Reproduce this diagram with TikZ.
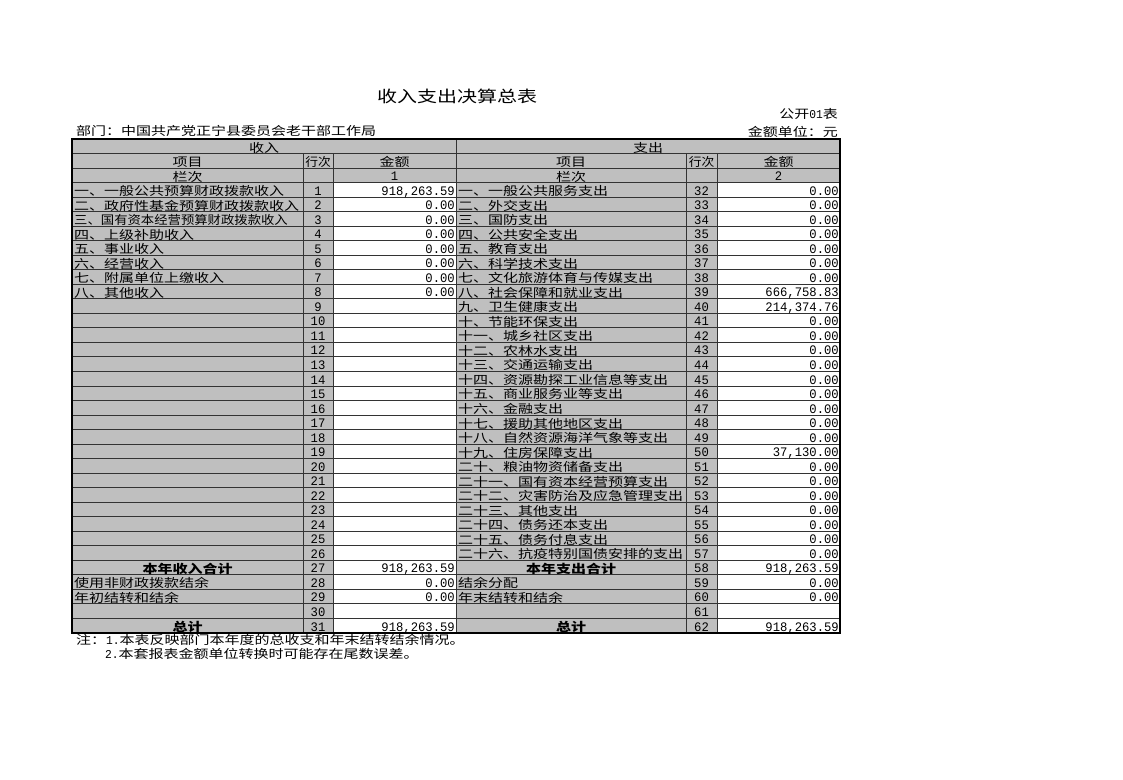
\documentclass[tikz,border=0pt]{standalone}
\usepackage{fontspec}
\usepackage{graphicx}
\setmainfont{Liberation Serif}
\newfontfamily\cjk[FakeStretch=1.25]{Noto Sans CJK SC}
\newfontfamily\num[FakeStretch=0.94]{Liberation Mono}

\begin{document}
\begin{tikzpicture}[x=1pt,y=-1pt,
    txt/.style={inner sep=0pt, font=\cjk\fontsize{12}{12}\selectfont},
    numtxt/.style={inner sep=0pt, font=\num\fontsize{13}{13}\selectfont},
    total/.style={inner sep=0pt, font=\cjk\bfseries\fontsize{12}{12}\selectfont},
    grid/.style={line width=1pt, black!80}]
    \useasboundingbox (0,0) rectangle (1123,779);
    % Title and heading lines
    \node[inner sep=0pt, font=\cjk\fontsize{16}{16}\selectfont, anchor=base] (title) at (457,102) {收入支出决算总表};
    \node[txt, anchor=base east] (form) at (838,118) {公开{\num 01}表};
    \node[txt, anchor=base west] (dept) at (76,135) {部门：中国共产党正宁县委员会老干部工作局};
    \node[txt, anchor=base east] (unit) at (838,136) {金额单位：元};
    % Cell fills
    \fill[black!25] (72,139) rectangle (840,633);
    \fill[white] (333,181.6) rectangle (456,633);
    \fill[white] (717,181.6) rectangle (840,633);
    % Draw grid
    \foreach \k in {1,...,33} \draw[grid] (72,{139+\k*14.53}) -- (840,{139+\k*14.53});
    \foreach \x in {303,333,686,717} \draw[grid] (\x,153.5) -- (\x,633);
    \draw[grid] (456,139) -- (456,633);
    \draw[line width=1.1pt] (72,139) rectangle (840,633);
    % Header rows
    \node[txt, anchor=base] (inhead) at (264,152) {收入};
    \node[txt, anchor=base] (outhead) at (648,152) {支出};
    \node[txt, anchor=base] (litemhead) at (187.5,166.5) {项目};
    \node[txt, anchor=base] (lnohead) at (318,166.5) {\scalebox{0.85}[1]{行次}};
    \node[txt, anchor=base] (lamthead) at (394.5,166.5) {金额};
    \node[txt, anchor=base] (ritemhead) at (571,166.5) {项目};
    \node[txt, anchor=base] (rnohead) at (701.5,166.5) {\scalebox{0.85}[1]{行次}};
    \node[txt, anchor=base] (ramthead) at (778.5,166.5) {金额};
    \node[txt, anchor=base] (lcol) at (187.5,181) {栏次};
    \node[numtxt, anchor=base] (lcolno) at (394.5,180) {1};
    \node[txt, anchor=base] (rcol) at (571,181) {栏次};
    \node[numtxt, anchor=base] (rcolno) at (778.5,180) {2};
    % Row numbers
    \foreach \i in {1,...,31} {
        \pgfmathtruncatemacro\j{\i+31}
        \node[numtxt, anchor=base] (lno\i) at (318,{139+(\i+3)*14.53-2}) {\i};
        \node[numtxt, anchor=base] (rno\i) at (701.5,{139+(\i+3)*14.53-2}) {\j};
    }
    % Income items
    \foreach \i/\t in {1/一、一般公共预算财政拨款收入, 2/二、政府性基金预算财政拨款收入,
        3/{\scalebox{0.89}[1]{三、国有资本经营预算财政拨款收入}}, 4/四、上级补助收入,
        5/五、事业收入, 6/六、经营收入, 7/七、附属单位上缴收入, 8/八、其他收入,
        28/使用非财政拨款结余, 29/年初结转和结余}
        \node[txt, anchor=base west] (litem\i) at (74,{139+(\i+3)*14.53-1.6}) {\t};
    \foreach \i/\a in {1/{918,263.59}, 2/0.00, 3/0.00, 4/0.00, 5/0.00, 6/0.00, 7/0.00, 8/0.00,
        27/{918,263.59}, 28/0.00, 29/0.00, 31/{918,263.59}}
        \node[numtxt, anchor=base east] (lamt\i) at (455,{139+(\i+3)*14.53-2}) {\a};
    % Expense items
    \foreach \i/\t in {1/一、一般公共服务支出, 2/二、外交支出, 3/三、国防支出, 4/四、公共安全支出,
        5/五、教育支出, 6/六、科学技术支出, 7/七、文化旅游体育与传媒支出, 8/八、社会保障和就业支出,
        9/九、卫生健康支出, 10/十、节能环保支出, 11/十一、城乡社区支出, 12/十二、农林水支出,
        13/十三、交通运输支出, 14/十四、资源勘探工业信息等支出, 15/十五、商业服务业等支出,
        16/十六、金融支出, 17/十七、援助其他地区支出, 18/十八、自然资源海洋气象等支出,
        19/十九、住房保障支出, 20/二十、粮油物资储备支出, 21/二十一、国有资本经营预算支出,
        22/二十二、灾害防治及应急管理支出, 23/二十三、其他支出, 24/二十四、债务还本支出,
        25/二十五、债务付息支出, 26/二十六、抗疫特别国债安排的支出, 28/结余分配, 29/年末结转和结余}
        \node[txt, anchor=base west] (ritem\i) at (458,{139+(\i+3)*14.53-1.6}) {\t};
    \foreach \i/\a in {1/0.00, 2/0.00, 3/0.00, 4/0.00, 5/0.00, 6/0.00, 7/0.00, 8/{666,758.83},
        9/{214,374.76}, 10/0.00, 11/0.00, 12/0.00, 13/0.00, 14/0.00, 15/0.00, 16/0.00, 17/0.00,
        18/0.00, 19/{37,130.00}, 20/0.00, 21/0.00, 22/0.00, 23/0.00, 24/0.00, 25/0.00, 26/0.00,
        27/{918,263.59}, 28/0.00, 29/0.00, 31/{918,263.59}}
        \node[numtxt, anchor=base east] (ramt\i) at (839,{139+(\i+3)*14.53-2}) {\a};
    % Totals
    \node[total, anchor=base] (lsum) at (187.5,{139+30*14.53-1.6}) {本年收入合计};
    \node[total, anchor=base] (ltotal) at (187.5,{139+34*14.53-1.6}) {总计};
    \node[total, anchor=base] (rsum) at (571,{139+30*14.53-1.6}) {本年支出合计};
    \node[total, anchor=base] (rtotal) at (571,{139+34*14.53-1.6}) {总计};
    % Notes
    \node[txt, anchor=base west] (note1) at (76,644) {注：{\num 1.}本表反映部门本年度的总收支和年末结转结余情况。};
    \node[txt, anchor=base west] (note2) at (105,658) {{\num 2.}本套报表金额单位转换时可能存在尾数误差。};
\end{tikzpicture}
\end{document}
